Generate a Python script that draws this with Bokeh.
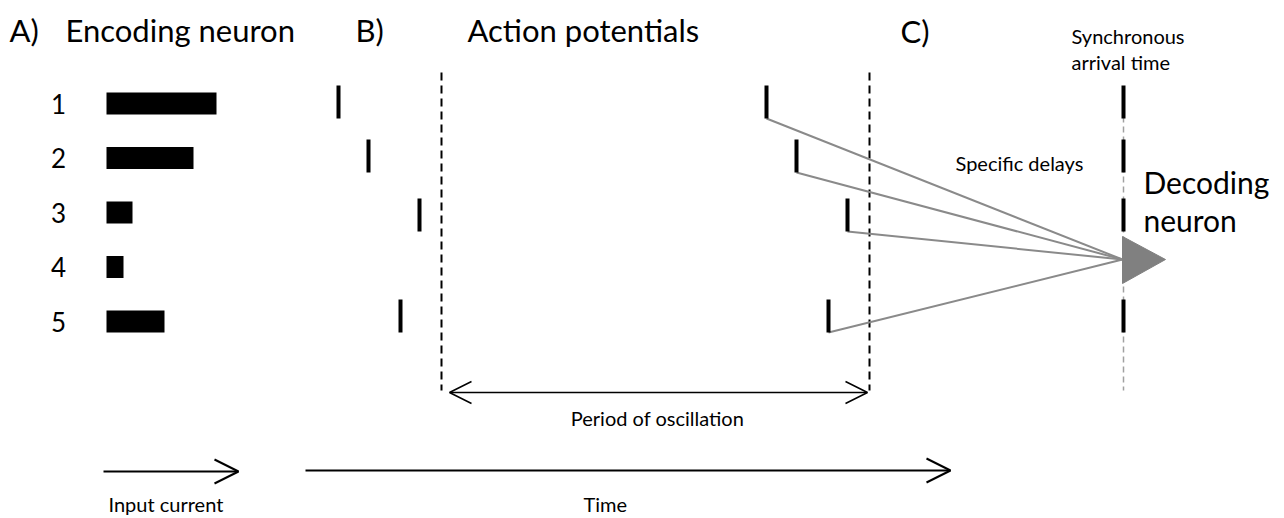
from bokeh.plotting import figure
from bokeh.models import Range1d, Arrow, OpenHead, Label
from bokeh.core.properties import value
from bokeh.embed import file_html
from bokeh.resources import INLINE

# ---- data ----
neurons = ["1", "2", "3", "4", "5"]
input_current = [110, 87, 26, 17, 58]          # bar length (input current strength)
spike_time = [338, 368, 419, None, 400]         # first-cycle spike times (neuron 4: no spike)
period = 428                                    # period of oscillation
trough_time = 441                               # first oscillation trough (dashed line)
arrival_time = 1123                             # synchronous arrival time

# ---- layout constants ----
FONT = "Lato"
bar_x0 = 106
row_y = [103 + 54.5 * i for i in range(5)]
spike_y = [101, 155, 214, 265, 315]
SP_UP, SP_DN = 16, 17
neuron_x, neuron_y = 1122, 259

p = figure(width=1284, height=518, x_range=Range1d(0, 1284), y_range=Range1d(518, 0),
           output_backend="svg", toolbar_location=None, min_border=0,
           x_axis_location=None, y_axis_location=None)
p.grid.visible = False
p.outline_line_color = None
p.background_fill_color = "white"
p.border_fill_color = "white"

# A) encoding neuron: input current bars
p.hbar(y=row_y, left=bar_x0, right=[bar_x0 + v for v in input_current], height=22,
       fill_color="black", line_color=None)
p.text(x=[58] * 5, y=row_y, text=neurons, text_align="center", text_baseline="middle",
       text_font=value(FONT), text_font_size="26px", text_color="black")

# B) action potentials, two cycles
idx = [i for i, t in enumerate(spike_time) if t is not None]
t1 = [spike_time[i] for i in idx]
t2 = [spike_time[i] + period for i in idx]
sy = [spike_y[i] for i in idx]
p.segment(x0=t1, x1=t1, y0=[y - SP_UP for y in sy], y1=[y + SP_DN for y in sy],
          line_width=4, line_color="black", line_cap="butt")

# oscillation troughs
tr = [trough_time, trough_time + period]
p.segment(x0=tr, x1=tr, y0=[72, 72], y1=[390, 390], line_dash="8 5", line_width=2,
          line_color="black")

# specific delay lines
p.segment(x0=t2, y0=[y + SP_DN for y in sy], x1=[neuron_x] * len(t2), y1=[neuron_y] * len(t2),
          line_width=2, line_color="#8a8a8a")
p.segment(x0=t2, x1=t2, y0=[y - SP_UP for y in sy], y1=[y + SP_DN for y in sy],
          line_width=4, line_color="black", line_cap="butt")

# C) synchronous arrival
p.segment(x0=[arrival_time], x1=[arrival_time], y0=[86], y1=[390], line_dash="6 4",
          line_width=1.5, line_color="#a0a0a0")
p.segment(x0=[arrival_time] * len(sy), x1=[arrival_time] * len(sy),
          y0=[y - SP_UP for y in sy], y1=[y + SP_DN for y in sy],
          line_width=4, line_color="black", line_cap="butt")
p.patch(x=[neuron_x, neuron_x, neuron_x + 43], y=[neuron_y - 23, neuron_y + 24, neuron_y],
        fill_color="#808080", line_color="#808080")

# arrows
p.add_layout(Arrow(start=OpenHead(size=22, line_width=1.5), end=OpenHead(size=22, line_width=1.5),
                   x_start=tr[0] + 8, y_start=392, x_end=tr[1] - 2, y_end=392,
                   line_width=1.5, line_color="black"))
p.add_layout(Arrow(end=OpenHead(size=24, line_width=2), x_start=103, y_start=471,
                   x_end=238, y_end=471, line_width=2, line_color="black"))
p.add_layout(Arrow(end=OpenHead(size=24, line_width=2), x_start=305, y_start=470,
                   x_end=950, y_end=470, line_width=2, line_color="black"))

def label(x, y, txt, size, align="left"):
    p.add_layout(Label(x=x, y=y, text=txt, text_font=FONT, text_font_size=size,
                       text_align=align, text_baseline="middle", text_color="black"))

label(9, 29, "A)", "31px")
label(65, 29, "Encoding neuron", "31px")
label(355, 29, "B)", "31px")
label(467, 29, "Action potentials", "31px")
label(900, 30, "C)", "31px")
label(1071, 35, "Synchronous", "20px")
label(1071, 61, "arrival time", "20px")
label(955, 162, "Specific delays", "20px")
label(1143, 181, "Decoding", "30px")
label(1143, 219, "neuron", "30px")
label(657, 417, "Period of oscillation", "20px", "center")
label(108, 503, "Input current", "20px")
label(583, 503, "Time", "20px")

open("out.html", "w").write(file_html(p, INLINE))
